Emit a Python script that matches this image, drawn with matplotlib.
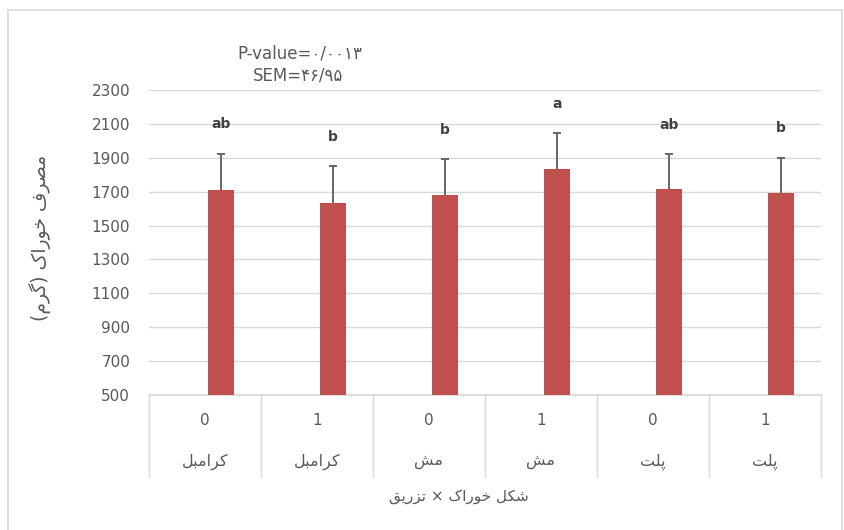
import matplotlib
matplotlib.use("Agg")
import matplotlib.pyplot as plt
from matplotlib.patches import Rectangle
import numpy as np

# data
feed = ["کرامبل", "کرامبل", "مش", "مش", "پلت", "پلت"]
inject = ["0", "1", "0", "1", "0", "1"]
intake = [1712, 1632, 1683, 1833, 1715, 1695]
sem_err = [212, 217, 208, 211, 205, 205]
letters = ["ab", "b", "b", "a", "ab", "b"]
y_ticks = list(range(500, 2301, 200))
p_text = "P-value=۰/۰۰۱۳"
sem_text = "SEM=۴۶/۹۵"
y_title = "مصرف خوراک (گرم)"
x_title = "شکل خوراک × تزریق"

# matplotlib has no arabic shaping, so map letters to presentation forms
# (isolated, final, initial, medial)
FORMS = {
    "ا": ("\uFE8D", "\uFE8E", None, None),
    "ر": ("\uFEAD", "\uFEAE", None, None),
    "ز": ("\uFEAF", "\uFEB0", None, None),
    "و": ("\uFEED", "\uFEEE", None, None),
    "ب": ("\uFE8F", "\uFE90", "\uFE91", "\uFE92"),
    "پ": ("\uFB56", "\uFB57", "\uFB58", "\uFB59"),
    "ت": ("\uFE95", "\uFE96", "\uFE97", "\uFE98"),
    "خ": ("\uFEA5", "\uFEA6", "\uFEA7", "\uFEA8"),
    "ش": ("\uFEB5", "\uFEB6", "\uFEB7", "\uFEB8"),
    "ص": ("\uFEB9", "\uFEBA", "\uFEBB", "\uFEBC"),
    "ف": ("\uFED1", "\uFED2", "\uFED3", "\uFED4"),
    "ق": ("\uFED5", "\uFED6", "\uFED7", "\uFED8"),
    "ک": ("\uFB8E", "\uFB8F", "\uFB90", "\uFB91"),
    "گ": ("\uFB92", "\uFB93", "\uFB94", "\uFB95"),
    "ل": ("\uFEDD", "\uFEDE", "\uFEDF", "\uFEE0"),
    "م": ("\uFEE1", "\uFEE2", "\uFEE3", "\uFEE4"),
    "ی": ("\uFBFC", "\uFBFD", "\uFBFE", "\uFBFF"),
}


def shape(s):
    out = []
    for i, c in enumerate(s):
        if c not in FORMS:
            out.append(c)
            continue
        prev = s[i - 1] if i > 0 else ""
        nxt = s[i + 1] if i + 1 < len(s) else ""
        jp = prev in FORMS and FORMS[prev][2] is not None
        jn = FORMS[c][2] is not None and nxt in FORMS
        f = FORMS[c]
        if jp and jn:
            out.append(f[3])
        elif jp:
            out.append(f[1])
        elif jn:
            out.append(f[2])
        else:
            out.append(f[0])
    vis = "".join(reversed(out))
    return vis.translate(str.maketrans("()", ")("))


plt.rcParams["font.family"] = ["DejaVu Sans"]
txt = "#595959"
grid = "#d9d9d9"

fig = plt.figure(figsize=(8.45, 5.3), dpi=100)
ax = fig.add_axes([149 / 845, 1 - 395 / 530, 672 / 845, 305 / 530])

x = np.arange(len(intake))
bx = x + 0.143
ax.bar(bx, intake, width=0.232, bottom=0, color="#c0504d", zorder=3)
eb = ax.errorbar(bx, intake, yerr=[np.zeros(len(sem_err)), sem_err], fmt="none",
                 ecolor="#666666", elinewidth=1.4, capsize=3, capthick=1.4,
                 zorder=4)
eb[1][0].set_visible(False)  # plus-only error bars, drop the lower cap
for xi, v, e, l in zip(bx, intake, sem_err, letters):
    ax.text(xi, v + e + 175, l, ha="center", va="center", fontsize=10,
            fontweight="bold", color="#404040")

ax.set_ylim(500, 2300)
ax.set_xlim(-0.5, len(intake) - 0.5)
ax.set_yticks(y_ticks)
ax.set_xticks([])
ax.tick_params(axis="y", length=0, pad=13.5, labelsize=11, labelcolor=txt)
for s in ax.spines.values():
    s.set_visible(False)
ax.grid(axis="y", color=grid, linewidth=1, zorder=0)
ax.axhline(500, color=grid, linewidth=1.2, zorder=2, clip_on=False)

# two-level category labels under the axis
for i in range(len(intake) + 1):
    ax.plot([i / len(intake)] * 2, [0, -0.27], transform=ax.transAxes,
            color=grid, linewidth=1, clip_on=False)
for i, (f, n) in enumerate(zip(feed, inject)):
    xc = (i + 0.5) / len(intake)
    ax.text(xc, -0.082, n, transform=ax.transAxes, ha="center", va="center",
            fontsize=11, color=txt)
    ax.text(xc, -0.219, shape(f), transform=ax.transAxes, ha="center",
            va="center", fontsize=11.5, color=txt)

fig.text(459 / 845, 1 - 497 / 530, shape(x_title), ha="center", va="center",
         fontsize=11, color=txt)
fig.text(40 / 845, 1 - 238 / 530, shape(y_title), ha="center", va="center",
         rotation=90, fontsize=13.5, color=txt)
fig.text(300 / 845, 1 - 54 / 530, p_text, ha="center", va="center",
         fontsize=12, color=txt)
fig.text(298 / 845, 1 - 76 / 530, sem_text, ha="center", va="center",
         fontsize=12, color=txt)

# chart area frame
fig.patches.append(Rectangle((8 / 845, -0.05), 834 / 845, 1 - 10 / 530 + 0.05,
                             transform=fig.transFigure, fill=False,
                             edgecolor=grid, linewidth=1.2))

fig.savefig("out.png", dpi=100)
